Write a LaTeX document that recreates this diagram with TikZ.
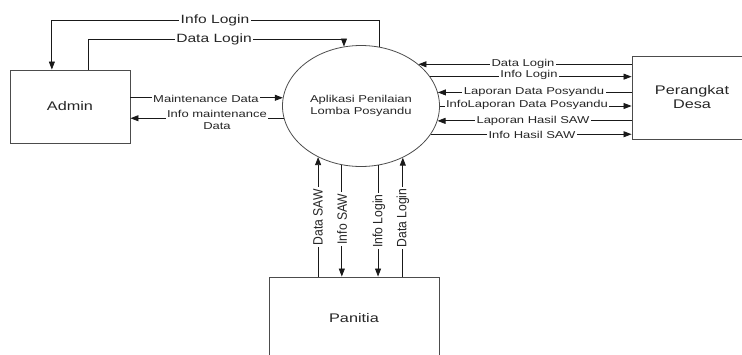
\documentclass[tikz,border=0pt]{standalone}
\usepackage{fontspec}
\setmainfont[FakeStretch=1.3]{Liberation Sans}
\newfontfamily\vfont[FakeStretch=0.9]{Liberation Sans}
\usetikzlibrary{shapes.geometric,arrows.meta,calc}
\begin{document}
\begin{tikzpicture}[x=1pt,y=-1pt,
  entity/.style={draw=black!70, line width=0.9pt, inner sep=0pt, align=center,
    font=\fontsize{12.5}{14}\selectfont, text=black!85},
  flow/.style={draw=black!90, line width=0.8pt},
  arr/.style={-{Triangle[length=8pt,width=6pt]}},
  lbl/.style={fill=white, inner xsep=1.5pt, inner ysep=0.5pt, align=center,
    font=\fontsize{10}{12}\selectfont, text=black!85},
  biglbl/.style={lbl, font=\fontsize{12}{14}\selectfont},
  vlbl/.style={fill=white, inner xsep=1.5pt, inner ysep=0.5pt, rotate=90,
    font=\vfont\fontsize{13.5}{15}\selectfont, text=black!85}]
\path[use as bounding box] (0,0) rectangle (742,354);
\clip (0,0) rectangle (742,354);

% entities and process
\node[entity, minimum width=120pt, minimum height=73pt] (admin) at (70,106.5) {Admin};
\node[entity, minimum width=120pt, minimum height=83pt] (pd) at (692,97.5) {Perangkat\\Desa};
\node[entity, minimum width=170pt, minimum height=82pt] (pan) at (354,318) {Panitia};
\node[draw=black!70, line width=0.8pt, ellipse, minimum width=157pt, minimum height=121pt,
  inner sep=0pt, align=center, font=\fontsize{10}{12.5}\selectfont, text=black!85]
  (app) at (361,106) {Aplikasi Penilaian\\Lomba Posyandu};

% helper coordinates
\coordinate (railA) at (0,20);
\coordinate (railB) at (0,39);
\coordinate (a1) at ($(admin.north west)!0.35!(admin.north east)$);
\coordinate (a2) at ($(admin.north west)!0.65!(admin.north east)$);

% top loops
\draw[flow,arr] (app.73.1) -- (app.73.1 |- railA) -| (a1);
\draw[flow,arr] (a2) -- (a2 |- railB) -| (app.106.9);

% left flows
\draw[flow,arr] (app.174.9 -| admin.east) -- (app.174.9);
\draw[flow,arr] (app.189.6) -- (app.189.6 -| admin.east);

% right flows
\draw[flow,arr] (app.36.2 -| pd.west) -- (app.36.2);
\draw[flow,arr] (app.23.6) -- (app.23.6 -| pd.west);
\draw[flow,arr] (app.10.3 -| pd.west) -- (app.10.3);
\draw[flow,arr] (app.0.8) -- (app.0.8 -| pd.west);
\draw[flow,arr] (app.-11.1 -| pd.west) -- (app.-11.1);
\draw[flow,arr] (app.-22.6) -- (app.-22.6 -| pd.west);

% bottom flows
\draw[flow,arr] (app.230 |- pan.north) -- (app.230);
\draw[flow,arr] (app.252.2) -- (app.252.2 |- pan.north);
\draw[flow,arr] (app.286.9) -- (app.286.9 |- pan.north);
\draw[flow,arr] (app.309.1 |- pan.north) -- (app.309.1);

% labels
\node[biglbl] (l1) at (215,20) {Info Login};
\node[biglbl] (l2) at (214,39) {Data Login};
\node[lbl] (l3) at (206,99) {Maintenance Data};
\node[lbl] (l4) at (217,119.5) {Info maintenance\\Data};
\node[lbl] (l5) at (523,64) {Data Login};
\node[lbl] (l6) at (529,75) {Info Login};
\node[lbl] (l7) at (534,92) {Laporan Data Posyandu};
\node[lbl] (l8) at (527,105) {InfoLaporan Data Posyandu};
\node[lbl] (l9) at (533,121) {Laporan Hasil SAW};
\node[lbl] (l10) at (532,135) {Info Hasil SAW};
\node[vlbl] (l11) at (318,217) {Data SAW};
\node[vlbl] (l12) at (342,219) {Info SAW};
\node[vlbl] (l13) at (379,221) {Info Login};
\node[vlbl] (l14) at (403,218) {Data Login};
\end{tikzpicture}
\end{document}
